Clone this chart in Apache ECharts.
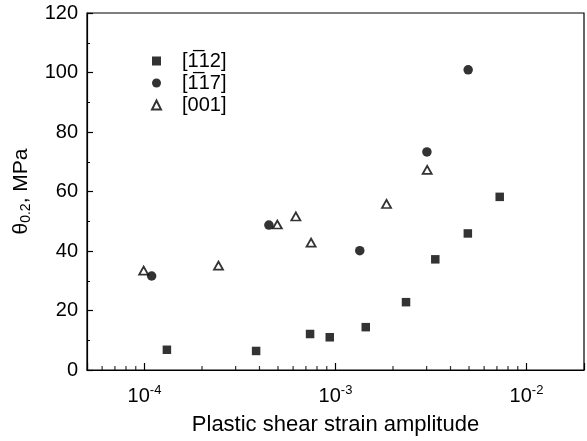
<!DOCTYPE html>
<html>
<head>
<meta charset="utf-8">
<script src="https://cdn.jsdelivr.net/npm/echarts@6/dist/echarts.min.js"></script>
<style>html,body{margin:0;padding:0;background:#fff;}#c{width:587px;height:441px;}</style>
</head>
<body>
<div id="c"></div>
<script>
// Data
const seriesNames = ['[1\u030512]', '[1\u030517]', '[001]'];
const sq112 = [[1.31e-4, 6.8], [3.84e-4, 6.4], [7.36e-4, 12.1], [9.33e-4, 11.0], [1.44e-3, 14.4], [2.34e-3, 22.8], [3.33e-3, 37.2], [4.93e-3, 45.9], [7.24e-3, 58.2]];
const ci117 = [[1.09e-4, 31.6], [4.48e-4, 48.7], [1.34e-3, 40.1], [3.01e-3, 73.3], [4.95e-3, 100.9]];
const tr001 = [[9.9e-5, 33.4], [2.44e-4, 35.1], [4.96e-4, 48.9], [6.2e-4, 51.6], [7.45e-4, 42.8], [1.85e-3, 55.8], [3.02e-3, 67.3]];
const xTickExponents = [-4, -3, -2];
const xMinorTicks = [6e-5, 7e-5, 8e-5, 9e-5, 2e-4, 3e-4, 4e-4, 5e-4, 6e-4, 7e-4, 8e-4, 9e-4, 2e-3, 3e-3, 4e-3, 5e-3, 6e-3, 7e-3, 8e-3, 9e-3];
const yTicks = [0, 20, 40, 60, 80, 100, 120];

const chart = echarts.init(document.getElementById('c'), null, {renderer: 'canvas'});
const FONT = 'Liberation Sans, Arial, sans-serif';
chart.setOption({
  animation: false,
  backgroundColor: '#fff',
  textStyle: {fontFamily: FONT, color: '#000'},
  grid: {left: 87, top: 13, width: 503, height: 359, show: true, borderColor: '#000', borderWidth: 1.2, backgroundColor: 'transparent'},
  legend: {
    data: seriesNames,
    orient: 'vertical',
    left: 146, top: 46,
    itemWidth: 9, itemHeight: 9, itemGap: 2,
    textStyle: {fontSize: 20, fontFamily: FONT, color: '#000', padding: [0, 0, 0, 16]},
    selectedMode: false
  },
  xAxis: {
    type: 'log', logBase: 10, min: 5e-5, max: 2e-2,
    name: 'Plastic shear strain amplitude',
    nameLocation: 'middle', nameGap: 44,
    nameTextStyle: {fontSize: 22, fontFamily: FONT, color: '#000'},
    axisLine: {lineStyle: {color: '#000', width: 1.2}},
    axisTick: {inside: true, length: 7, lineStyle: {color: '#000', width: 1.2}},
    splitLine: {show: false},
    axisLabel: {
      margin: 14, color: '#000', fontSize: 20, fontFamily: FONT,
      formatter: function (v) {
        const e = Math.round(Math.log10(v));
        if (Math.abs(Math.log10(v) - e) > 1e-6 || xTickExponents.indexOf(e) < 0) return '';
        return '10{s|' + e + '}';
      },
      rich: {s: {fontSize: 13, fontFamily: FONT, color: '#000', verticalAlign: 'top', padding: [0, 0, 12, 0]}}
    }
  },
  yAxis: {
    type: 'value', min: 0, max: 120, interval: 20,
    name: 'θ{sub|0.2}, MPa',
    nameLocation: 'middle', nameGap: 54, nameRotate: 90,
    nameTextStyle: {fontSize: 21, fontFamily: FONT, color: '#000', rich: {sub: {fontSize: 14, fontFamily: FONT, padding: [9, 0, 0, 0]}}},
    axisLine: {show: true, lineStyle: {color: '#000', width: 1.2}},
    axisTick: {inside: true, length: 6, lineStyle: {color: '#000', width: 1.2}},
    minorTick: {show: true, splitNumber: 2, length: 3, lineStyle: {color: '#000'}},
    splitLine: {show: false},
    axisLabel: {margin: 9, color: '#000', fontSize: 20, fontFamily: FONT,
      formatter: function (v) { return yTicks.indexOf(v) >= 0 ? String(v) : ''; }}
  },
  series: [
    {name: seriesNames[0], type: 'scatter', data: sq112, symbol: 'rect', symbolSize: 8.5, itemStyle: {color: '#000'}},
    {name: seriesNames[1], type: 'scatter', data: ci117, symbol: 'circle', symbolSize: 9.5, itemStyle: {color: '#000'}},
    {name: seriesNames[2], type: 'scatter', data: tr001, symbol: 'triangle', symbolSize: [9, 8], itemStyle: {color: '#fff', borderColor: '#000', borderWidth: 1.8}},
    {name: 'minor', type: 'scatter', data: xMinorTicks.map(v => [v, 0]), symbol: 'rect', symbolSize: [1.2, 4], symbolOffset: [0, -2], silent: true, clip: false, itemStyle: {color: '#000'}, z: 1}
  ]
});
</script>
</body>
</html>
